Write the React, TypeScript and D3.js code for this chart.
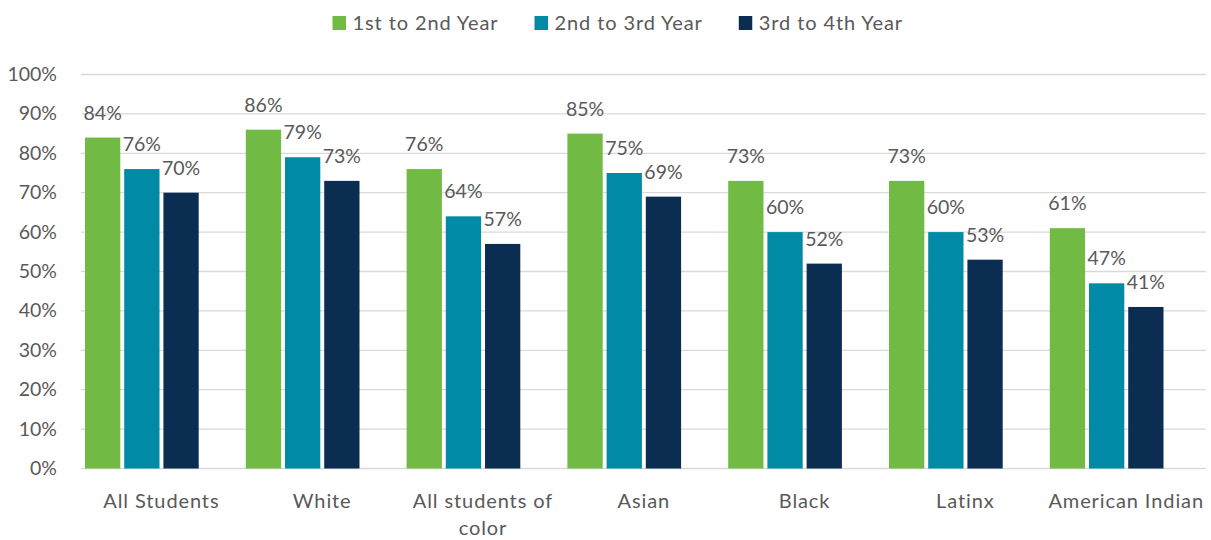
import React, { useEffect, useRef } from "react";
import * as d3 from "d3";

const categories = ["All Students", "White", "All students of color", "Asian", "Black", "Latinx", "American Indian"];
const seriesNames = ["1st to 2nd Year", "2nd to 3rd Year", "3rd to 4th Year"];
const firstToSecond = [84, 86, 76, 85, 73, 73, 61];
const secondToThird = [76, 79, 64, 75, 60, 60, 47];
const thirdToFourth = [70, 73, 57, 69, 52, 53, 41];
const seriesColors = ["#71BB44", "#008AA6", "#0B2D52"];
const yTicks = [0, 10, 20, 30, 40, 50, 60, 70, 80, 90, 100];

const W = 1211;
const H = 540;
const FONT = "Lato, 'Open Sans', sans-serif";
const TEXT = "#595959";
const NUM_SIZE = 19.5;
const WORD_SIZE = 20;
const WORD_LS = 0.9;

export default function App() {
  const ref = useRef<SVGSVGElement>(null);

  useEffect(() => {
    const svg = d3.select(ref.current);
    svg.selectAll("*").remove();
    const series = [firstToSecond, secondToThird, thirdToFourth];

    const y = d3.scaleLinear().domain([0, 100]).range([468.5, 74.5]);
    const x0 = d3.scaleBand<string>().domain(categories).range([81, 81 + 7 * 160.8]).padding(0);
    const x1 = d3.scaleBand<string>().domain(seriesNames).range([4, 117.7]).paddingInner(0.1).paddingOuter(0);

    // gridlines
    svg.append("g").selectAll("line").data(yTicks).join("line")
      .attr("x1", 81).attr("x2", 1206)
      .attr("y1", d => y(d)).attr("y2", d => y(d))
      .attr("stroke", "#D9D9D9").attr("stroke-width", 1.3);

    // y tick labels
    svg.append("g").selectAll("text").data(yTicks).join("text")
      .attr("x", 57).attr("y", d => y(d) + 6.5)
      .attr("text-anchor", "end")
      .attr("font-family", FONT).attr("font-size", NUM_SIZE).attr("fill", TEXT)
      .text(d => `${d}%`);

    // bars
    series.forEach((vals, si) => {
      const g = svg.append("g");
      g.selectAll("rect").data(categories).join("rect")
        .attr("x", (c) => (x0(c) as number) + (x1(seriesNames[si]) as number))
        .attr("width", x1.bandwidth())
        .attr("y", (_c, i) => y(vals[i]))
        .attr("height", (_c, i) => y(0) - y(vals[i]))
        .attr("fill", seriesColors[si]);
      g.selectAll("text").data(categories).join("text")
        .attr("x", (c) => (x0(c) as number) + (x1(seriesNames[si]) as number) + x1.bandwidth() / 2)
        .attr("y", (_c, i) => y(vals[i]) - 18)
        .attr("text-anchor", "middle")
        .attr("font-family", FONT).attr("font-size", NUM_SIZE).attr("fill", TEXT)
        .text((_c, i) => `${vals[i]}%`);
    });

    // category labels with wrapping
    const cg = svg.append("g");
    categories.forEach((c) => {
      const cx = (x0(c) as number) + x0.bandwidth() / 2;
      const t = cg.append("text")
        .attr("x", cx).attr("y", 507.5)
        .attr("text-anchor", "middle")
        .attr("font-family", FONT).attr("font-size", WORD_SIZE)
        .attr("letter-spacing", WORD_LS).attr("fill", TEXT);
      const words = c.split(" ");
      let line: string[] = [];
      let tspan = t.append("tspan").attr("x", cx).attr("dy", 0);
      words.forEach((w) => {
        line.push(w);
        tspan.text(line.join(" "));
        const len = (tspan.node() as SVGTSpanElement).getComputedTextLength();
        if (len > 165 && line.length > 1) {
          line.pop();
          tspan.text(line.join(" "));
          line = [w];
          tspan = t.append("tspan").attr("x", cx).attr("dy", 27).text(w);
        }
      });
    });

    // legend
    const lg = svg.append("g");
    let lx = 332.5;
    seriesNames.forEach((s, i) => {
      lg.append("rect").attr("x", lx).attr("y", 16).attr("width", 13.5).attr("height", 14).attr("fill", seriesColors[i]);
      const t = lg.append("text").attr("x", lx + 20).attr("y", 30)
        .attr("font-family", FONT).attr("font-size", WORD_SIZE)
        .attr("letter-spacing", WORD_LS).attr("fill", TEXT).text(s);
      const len = (t.node() as SVGTextElement).getComputedTextLength();
      lx += 20 + len + 36;
    });
  }, []);

  return (
    <svg ref={ref} width={W} height={H} style={{ display: "block", position: "absolute", left: 0, top: 0, background: "#fff" }} />
  );
}
